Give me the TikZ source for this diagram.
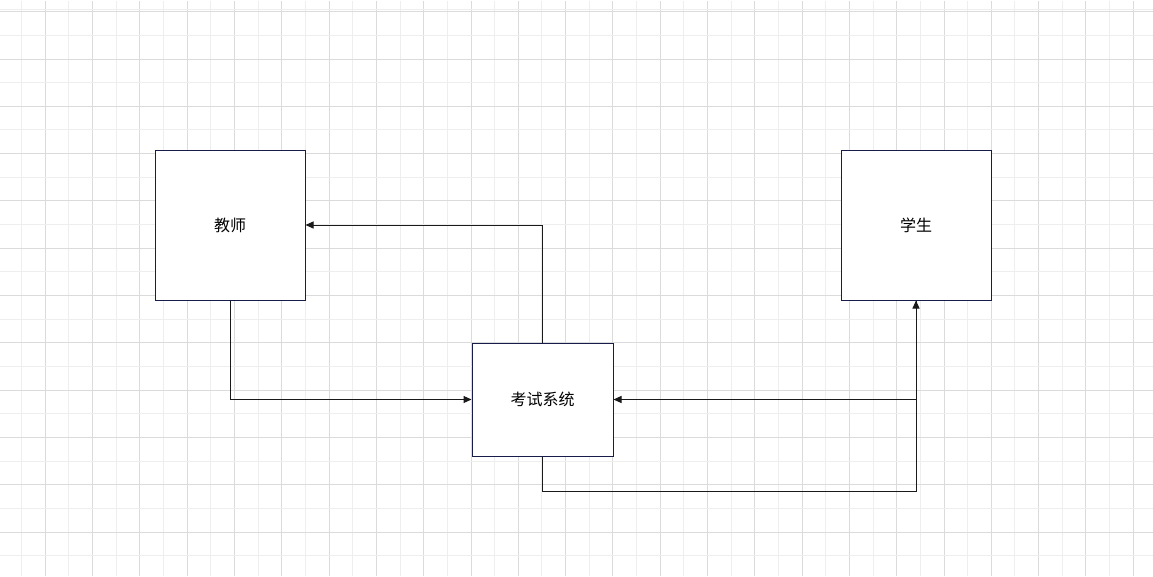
\documentclass[tikz,border=0pt]{standalone}
\usepackage{fontspec}
\newfontfamily\cjk{Noto Sans CJK SC}
\usetikzlibrary{arrows.meta,positioning}
\definecolor{gridminor}{RGB}{238,238,238}
\definecolor{gridmajor}{RGB}{219,219,219}
\definecolor{boxline}{RGB}{24,28,72}
\definecolor{wire}{RGB}{26,26,26}
\begin{document}
\begin{tikzpicture}[x=1pt,y=-1pt,>={Triangle[length=8pt,width=7pt]},every node/.style={font=\cjk\fontsize{16}{19}\selectfont},box/.style={draw=boxline,line width=1pt,fill=white,align=center,inner sep=0pt},link/.style={draw=wire,line width=1pt}]
\useasboundingbox[fill=white] (0,0) rectangle (1153,576);
\foreach \i in {0,...,47} {\pgfmathsetmacro\gx{21.65+23.65*\i}\pgfmathtruncatemacro\odd{mod(\i,2)}
  \ifnum\odd=1 \draw[gridmajor,line width=1pt] (\gx,1) -- (\gx,576); \else \draw[gridminor,line width=1pt] (\gx,1) -- (\gx,576); \fi}
\foreach \j in {0,...,22} {\pgfmathsetmacro\gy{35.35+23.65*\j}\pgfmathtruncatemacro\odd{mod(\j,2)}
  \ifnum\odd=1 \draw[gridmajor,line width=1pt] (0,\gy) -- (1153,\gy); \else \draw[gridminor,line width=1pt] (0,\gy) -- (1153,\gy); \fi}
\draw[gridminor,line width=1pt] (0,9) -- (1153,9); \draw[gridmajor,line width=1pt] (0,11) -- (1153,11);
\node[box,minimum width=150pt,minimum height=150pt] (teacher) at (230,225) {教师};
\node[box,minimum width=150pt,minimum height=150pt,right=535pt of teacher] (student) {学生};
\node[box,minimum width=141pt,minimum height=113pt,below right=42pt and 166pt of teacher] (system) {考试系统};
\draw[link,->] (system.north) |- (teacher.east); \draw[link,->] (teacher.south) |- (system.west);
\draw[link,->] (student.south) |- (system.east); \draw[link,->] (system.south) -- ++(0,35) -| (student.south);
\end{tikzpicture}
\end{document}
